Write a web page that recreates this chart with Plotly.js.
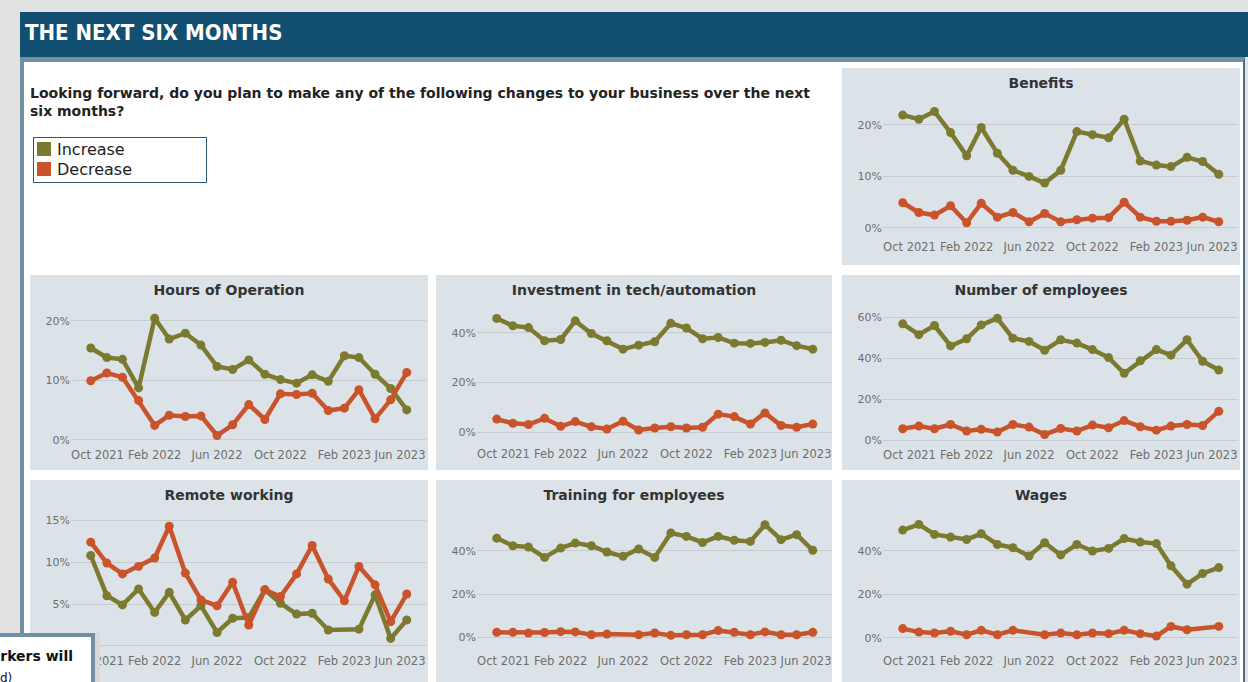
<!DOCTYPE html>
<html>
<head>
<meta charset="utf-8">
<script src="https://cdn.plot.ly/plotly-3.0.1.min.js"></script>
<style>
html,body{margin:0;padding:0;width:1248px;height:682px;overflow:hidden;background:#e2e2e2;font-family:"DejaVu Sans",sans-serif;}
#header{position:absolute;left:20px;top:12px;width:1228px;height:45px;background:#134f70;}
#header span{position:absolute;left:5px;top:8px;color:#fff;font-weight:bold;font-size:22px;font-family:"DejaVu Sans Condensed","Liberation Sans Narrow","DejaVu Sans",sans-serif;letter-spacing:0px;}
#frame{position:absolute;left:20px;top:57px;width:1219px;height:640px;background:#fff;border-left:4px solid #7090a4;border-top:5px solid #7090a4;border-right:2px solid #4b6c82;}
#question{position:absolute;left:30px;top:84px;white-space:nowrap;font-family:"DejaVu Sans",sans-serif;font-weight:bold;font-size:14px;line-height:18px;color:#222;}
#legend{position:absolute;left:33px;top:137px;width:172px;height:44px;border:1px solid #2b5876;background:#fff;}
.litem{position:absolute;left:3px;height:20px;font-size:16px;line-height:20px;color:#222;font-family:"DejaVu Sans",sans-serif;}
.lsw{display:inline-block;width:14px;height:14px;vertical-align:-1px;margin-right:6px;}
.panel{position:absolute;background:#dce3e8;}
#overlay{position:absolute;left:-4px;top:633px;width:95px;height:60px;background:#fff;border-top:4px solid #7090a4;border-right:4px solid #7090a4;box-shadow:5px 0 0 #d8d8d8;overflow:hidden;}
#overlay .l1{position:absolute;right:18px;top:11px;white-space:nowrap;font-family:"DejaVu Sans",sans-serif;font-weight:bold;font-size:14px;color:#111;}
#overlay .l2{position:absolute;left:4px;top:34px;white-space:nowrap;font-family:"DejaVu Sans",sans-serif;font-size:12px;color:#111;}
</style>
</head>
<body>
<div id="header"><span>THE NEXT SIX MONTHS</span></div>
<div id="frame"></div>
<div id="question">Looking forward, do you plan to make any of the following changes to your business over the next<br>six months?</div>
<div id="legend">
  <div class="litem" style="top:2px"><span class="lsw" style="background:#7b7a30"></span>Increase</div>
  <div class="litem" style="top:22px"><span class="lsw" style="background:#c9532b"></span>Decrease</div>
</div>
<div id="p_benefits" class="panel"></div>
<div id="p_hours" class="panel"></div>
<div id="p_invest" class="panel"></div>
<div id="p_employees" class="panel"></div>
<div id="p_remote" class="panel"></div>
<div id="p_training" class="panel"></div>
<div id="p_wages" class="panel"></div>
<div id="overlay"><span class="l1">workers will</span><span class="l2">d)</span></div>
<script>
// ---------- DATA ----------
const months = ['2021-10-01','2021-11-01','2021-12-01','2022-01-01','2022-02-01','2022-03-01','2022-04-01',
  '2022-05-01','2022-06-01','2022-07-01','2022-08-01','2022-09-01','2022-10-01','2022-11-01','2022-12-01',
  '2023-01-01','2023-02-01','2023-03-01','2023-04-01','2023-05-01','2023-06-01'];
const tickDates = ['2021-10-01','2022-02-01','2022-06-01','2022-10-01','2023-02-01','2023-06-01'];
const tickLabels = ['Oct 2021','Feb 2022','Jun 2022','Oct 2022','Feb 2023','Jun 2023'];
const seriesNames = ['Increase','Decrease'];

const benefitsIncrease = [21.9,21.1,22.6,18.5,14.0,19.5,14.5,11.2,10.0,8.7,11.2,18.7,18.1,17.5,21.1,13.0,12.2,11.9,13.7,12.9,10.4];
const benefitsDecrease = [4.9,3.0,2.5,4.3,1.0,4.8,2.1,3.0,1.2,2.8,1.2,1.6,1.9,2.0,5.0,2.1,1.3,1.3,1.5,2.1,1.2];

const hoursIncrease = [15.4,13.8,13.5,8.7,20.4,16.9,17.9,15.9,12.3,11.8,13.4,11.0,10.1,9.5,10.9,9.8,14.1,13.8,11.0,8.6,5.0];
const hoursDecrease = [9.9,11.2,10.5,6.6,2.4,4.1,3.9,4.0,0.7,2.5,5.9,3.4,7.7,7.6,7.8,4.9,5.3,8.4,3.5,6.7,11.3];

const investIncrease = [45.8,42.8,42.1,36.8,37.3,44.8,39.7,36.8,33.4,35.0,36.4,43.8,41.9,37.6,38.1,35.8,35.7,36.1,37.0,34.8,33.4];
const investDecrease = [5.2,3.5,3.0,5.5,2.3,4.2,2.1,1.2,4.3,0.8,1.6,2.1,1.6,1.9,7.2,6.2,3.2,7.7,2.6,1.9,3.2];

const employeesIncrease = [56.8,51.5,56.0,46.0,49.5,56.3,59.5,49.8,48.2,43.9,49.0,47.4,44.2,40.3,32.6,38.7,44.2,41.5,49.0,38.5,34.2];
const employeesDecrease = [5.5,6.8,5.5,7.6,4.4,5.2,3.9,7.6,6.3,2.7,5.6,4.4,7.3,6.0,9.5,6.5,4.8,6.8,7.6,7.1,14.0];

const remoteIncrease = [10.8,6.0,4.9,6.8,4.0,6.4,3.1,4.8,1.6,3.3,3.4,6.7,5.1,3.8,3.9,1.9,null,2.0,6.1,0.9,3.1];
const remoteDecrease = [12.4,9.9,8.6,9.5,10.5,14.3,8.7,5.5,4.8,7.6,2.5,6.7,5.9,8.6,12.0,8.0,5.4,9.5,7.3,2.9,6.2];

const trainingIncrease = [45.8,42.3,41.7,36.9,41.2,43.5,42.3,39.4,37.4,40.8,36.9,48.2,46.6,43.8,46.6,44.8,44.3,52.0,45.1,47.4,40.2];
const trainingDecrease = [2.3,2.3,2.0,2.2,2.6,2.5,1.2,1.5,null,1.2,2.0,0.9,1.2,1.2,3.1,2.3,1.2,2.5,1.2,1.2,2.3];

const wagesIncrease = [49.5,52.1,47.5,46.3,45.2,47.8,42.9,41.4,37.6,43.7,38.1,42.9,39.9,41.1,45.6,44.0,43.3,33.1,24.7,29.6,32.3];
const wagesDecrease = [4.3,2.7,2.3,3.1,1.5,3.5,1.5,3.5,null,1.5,2.3,1.5,2.3,2.0,3.5,2.0,0.9,5.3,3.8,null,5.3];

// ---------- STYLE / LAYOUT ----------
const colors = {Increase:'#7b7a30', Decrease:'#c9532b'};
const panelBg = '#dce3e8';
const panels = [
  {id:'p_benefits', title:'Benefits', inc:benefitsIncrease, dec:benefitsDecrease, left:842, top:68, w:398, h:197, b:31, range:[-1.17,25.6], dtick:10},
  {id:'p_hours', title:'Hours of Operation', inc:hoursIncrease, dec:hoursDecrease, left:30, top:275, w:398, h:195, b:28, range:[-0.39,22.97], dtick:10},
  {id:'p_invest', title:'Investment in tech/automation', inc:investIncrease, dec:investDecrease, left:436, top:275, w:396, h:195, b:29, range:[-3.63,52.0], dtick:20},
  {id:'p_employees', title:'Number of employees', inc:employeesIncrease, dec:employeesDecrease, left:842, top:275, w:398, h:195, b:28, range:[-0.98,67.0], dtick:20},
  {id:'p_remote', title:'Remote working', inc:remoteIncrease, dec:remoteDecrease, left:30, top:480, w:398, h:202, b:34, range:[-0.25,16.48], dtick:5},
  {id:'p_training', title:'Training for employees', inc:trainingIncrease, dec:trainingDecrease, left:436, top:480, w:396, h:202, b:34, range:[-4.94,59.72], dtick:20},
  {id:'p_wages', title:'Wages', inc:wagesIncrease, dec:wagesDecrease, left:842, top:480, w:398, h:202, b:34, range:[-4.59,59.63], dtick:20}
];

function shiftDate(s, days){
  const d = new Date(s + 'T00:00:00Z');
  d.setUTCDate(d.getUTCDate() + days);
  return d.toISOString().slice(0,10);
}
// end labels are nudged inward so they stay inside the panel
const tickPos = tickDates.map((d,i)=> i===0 ? shiftDate(d,13) : (i===tickDates.length-1 ? shiftDate(d,-13) : d));

panels.forEach(p=>{
  const el = document.getElementById(p.id);
  el.style.left = p.left+'px'; el.style.top = p.top+'px';
  el.style.width = p.w+'px'; el.style.height = p.h+'px';
  const series = [p.inc, p.dec];
  const traces = seriesNames.map((name,k)=>({
    type:'scatter', mode:'lines+markers', name:name,
    x: months, y: series[k], connectgaps:true,
    line:{color:colors[name], width:4.5},
    marker:{color:colors[name], size:9},
    hoverinfo:'skip'
  }));
  const layout = {
    width:p.w, height:p.h,
    margin:{l:41, r:p.w-396, t:28, b:p.b, pad:0},
    paper_bgcolor:panelBg, plot_bgcolor:panelBg,
    showlegend:false,
    title:{text:'<b>'+p.title+'</b>', x:0.5, xref:'container', y:1-15/p.h, yref:'container', yanchor:'middle', xanchor:'center',
           font:{family:'DejaVu Sans, sans-serif', size:14, color:'#333'}},
    xaxis:{type:'date', range:['2021-08-24','2023-07-08'], tickmode:'array', tickvals:tickPos, ticktext:tickLabels,
           showgrid:false, zeroline:false, showline:false, ticks:'', ticklabelstandoff:4,
           tickfont:{family:'DejaVu Sans, sans-serif', size:11.5, color:'#6e6e6e'}, fixedrange:true},
    yaxis:{range:p.range, tickmode:'linear', tick0:0, dtick:p.dtick, ticksuffix:'%',
           showgrid:true, gridcolor:'#c6cbcf', gridwidth:1, zeroline:false, showline:false, ticks:'',
           tickfont:{family:'DejaVu Sans, sans-serif', size:11, color:'#6e6e6e'}, fixedrange:true}
  };
  Plotly.newPlot(el, traces, layout, {staticPlot:true, displayModeBar:false});
});
</script>
</body>
</html>
